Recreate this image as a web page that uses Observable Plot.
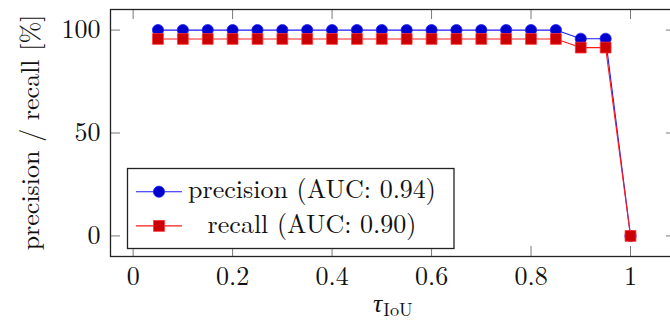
<!DOCTYPE html>
<html>
<head>
<meta charset="utf-8">
<script src="https://cdn.jsdelivr.net/npm/d3@7"></script>
<script src="https://cdn.jsdelivr.net/npm/@observablehq/plot@0.6"></script>
<style>
html, body { margin: 0; padding: 0; background: #fff; overflow: hidden; }
#chart { width: 670px; height: 322px; overflow: hidden; }
#chart svg { max-width: none !important; }
#chart svg, #chart svg text, #chart svg tspan { font-family: 'Latin Modern Roman', 'Liberation Serif', serif !important; }
</style>
</head>
<body>
<div id="chart"></div>
<script>
// --- data ---
const tau = [0.05, 0.10, 0.15, 0.20, 0.25, 0.30, 0.35, 0.40, 0.45, 0.50,
             0.55, 0.60, 0.65, 0.70, 0.75, 0.80, 0.85, 0.90, 0.95, 1.00];
const precision = [100, 100, 100, 100, 100, 100, 100, 100, 100, 100,
                   100, 100, 100, 100, 100, 100, 100, 95.8, 95.8, 0];
const recall = [95.7, 95.7, 95.7, 95.7, 95.7, 95.7, 95.7, 95.7, 95.7, 95.7,
                95.7, 95.7, 95.7, 95.7, 95.7, 95.7, 95.7, 91.5, 91.5, 0];
const xTicks = [0, 0.2, 0.4, 0.6, 0.8, 1];
const xTickLabels = ["0", "0.2", "0.4", "0.6", "0.8", "1"];
const yTicks = [0, 50, 100];
const yTickLabels = ["0", "50", "100"];
const legendLabels = ["precision (AUC: 0.94)", "recall (AUC: 0.90)"];
const yLabel = "precision / recall [%]";

const precData = tau.map((t, i) => ({t, v: precision[i]}));
const recData = tau.map((t, i) => ({t, v: recall[i]}));

const W = 680, H = 322;
const mL = 110, mT = 9, mB = 66, mR = 4;
const plotH = H - mT - mB;
const plotW = W - mL - mR;
const FONT = "'Latin Modern Roman', 'Liberation Serif', serif";
const TICK = "#7a7a7a";

const chart = Plot.plot({
  width: W,
  height: H,
  marginLeft: mL, marginTop: mT, marginBottom: mB, marginRight: mR,
  style: {fontFamily: FONT, fontSize: "26px", background: "#fff", overflow: "visible", maxWidth: "none"},
  x: {domain: [-0.0455, 1.0925], axis: null},
  y: {domain: [-10, 110], axis: null},
  marks: [
    // inward ticks on all four sides
    Plot.tickX(xTicks, {x: d => d, insetTop: plotH - 10, stroke: TICK, strokeWidth: 1}),
    Plot.tickX(xTicks, {x: d => d, insetBottom: plotH - 10, stroke: TICK, strokeWidth: 1}),
    Plot.tickY(yTicks, {y: d => d, insetRight: plotW - 10, stroke: TICK, strokeWidth: 1}),
    Plot.tickY(yTicks, {y: d => d, insetLeft: plotW - 10, stroke: TICK, strokeWidth: 1}),
    Plot.axisX(xTicks, {tickSize: 0, tickPadding: 10, label: null,
      tickFormat: (d, i) => xTickLabels[i], fill: "#111", fontSize: 26}),
    Plot.axisY(yTicks, {tickSize: 0, tickPadding: 10, label: null,
      tickFormat: (d, i) => yTickLabels[i], fill: "#111", fontSize: 26}),
    // precision
    Plot.line(precData, {x: "t", y: "v", stroke: "#1a1aff", strokeWidth: 1.1}),
    Plot.dot(precData, {x: "t", y: "v", r: 5.6, fill: "#0000cc", stroke: "#2222ff", strokeWidth: 0.8}),
    // recall
    Plot.line(recData, {x: "t", y: "v", stroke: "#ff1a1a", strokeWidth: 1.1}),
    Plot.dot(recData, {x: "t", y: "v", symbol: "square", r: 6.1, fill: "#cc0000", stroke: "#ff3333", strokeWidth: 0.8}),
    Plot.frame({stroke: "#222", strokeWidth: 1.3})
  ]
});

document.getElementById("chart").appendChild(chart);

// overlay: axis labels and legend
const svg = d3.select(chart);

// y label
svg.append("text")
  .attr("transform", `translate(39, ${mT + plotH / 2}) rotate(-90)`)
  .attr("text-anchor", "middle")
  .attr("font-family", FONT)
  .attr("font-size", 26)
  .attr("fill", "#111")
  .text(yLabel);

// x label: tau_IoU
const xl = svg.append("text")
  .attr("x", 373)
  .attr("y", 311.5)
  .attr("text-anchor", "start")
  .attr("font-family", FONT)
  .attr("fill", "#111");
xl.append("tspan").attr("font-size", 26).attr("font-style", "italic").text("τ");
xl.append("tspan").attr("font-size", 18.2).attr("dy", 4.3).attr("dx", 1).text("IoU");

// legend
const lg = svg.append("g");
lg.append("rect")
  .attr("x", 127.5).attr("y", 168.5).attr("width", 326.5).attr("height", 80)
  .attr("fill", "#fff").attr("stroke", "#222").attr("stroke-width", 1.3);
const rows = [
  {label: legendLabels[0], y: 191.7, line: "#1a1aff", fill: "#0000cc", stroke: "#2222ff", sym: "circle"},
  {label: legendLabels[1], y: 225.9, line: "#ff1a1a", fill: "#cc0000", stroke: "#ff3333", sym: "square"}
];
rows.forEach(r => {
  lg.append("line").attr("x1", 136).attr("x2", 182).attr("y1", r.y).attr("y2", r.y)
    .attr("stroke", r.line).attr("stroke-width", 1.1);
  if (r.sym === "circle") {
    lg.append("circle").attr("cx", 159).attr("cy", r.y).attr("r", 5.6)
      .attr("fill", r.fill).attr("stroke", r.stroke).attr("stroke-width", 0.8);
  } else {
    lg.append("rect").attr("x", 159 - 5.4).attr("y", r.y - 5.4).attr("width", 10.8).attr("height", 10.8)
      .attr("fill", r.fill).attr("stroke", r.stroke).attr("stroke-width", 0.8);
  }
  lg.append("text").attr("x", 312).attr("y", r.y + 6.6)
    .attr("text-anchor", "middle")
    .attr("font-family", FONT).attr("font-size", 26)
    .attr("fill", "#111")
    .text(r.label);
});
</script>
</body>
</html>
